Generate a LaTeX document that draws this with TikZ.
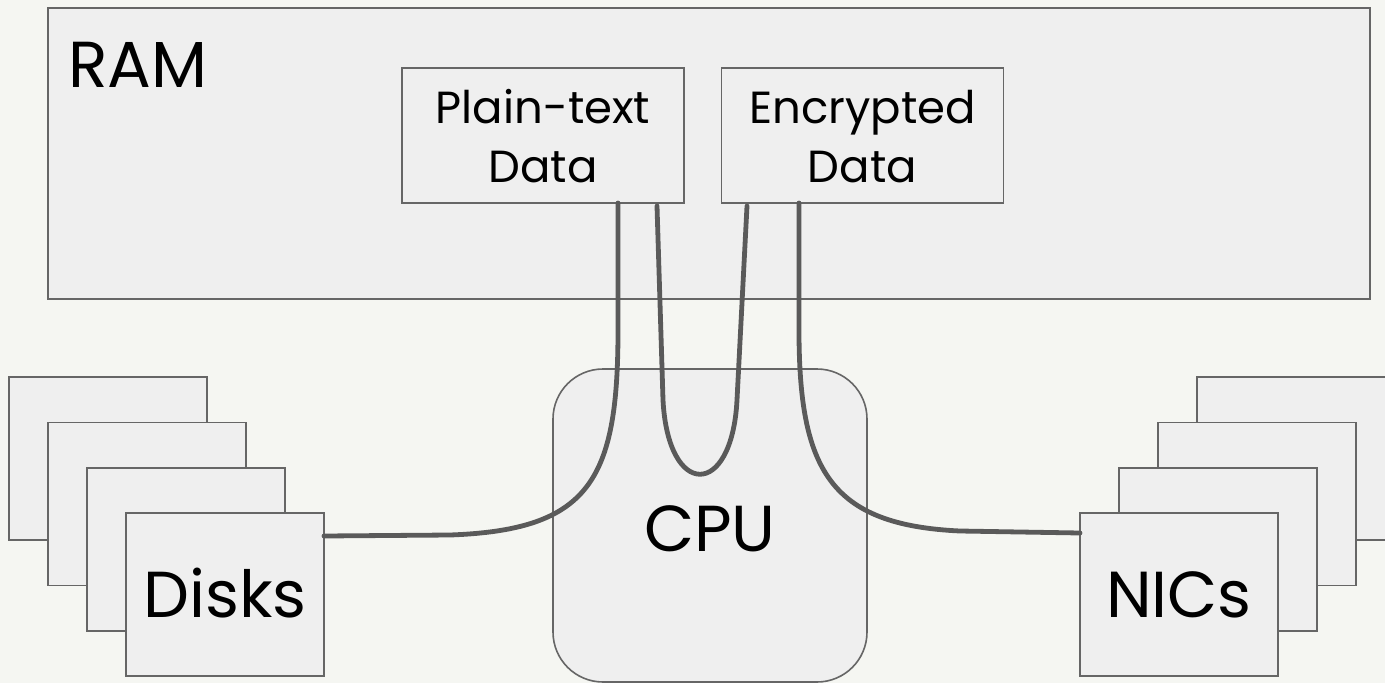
\documentclass[tikz,border=0pt]{standalone}
\usepackage{fontspec}
\setmainfont{Poppins}
\usetikzlibrary{calc}
\definecolor{bg}{HTML}{F5F6F2}
\definecolor{boxfill}{HTML}{EFEFEF}
\definecolor{boxline}{HTML}{666666}
\definecolor{wire}{HTML}{5A5A5A}
\tikzset{
  box/.style={draw=boxline, fill=boxfill, line width=1.6pt, inner sep=0pt, outer sep=0pt, rectangle},
  stackbox/.style={box, minimum width=198pt, minimum height=163pt},
  databox/.style={box, minimum width=282pt, minimum height=135pt},
  biglbl/.style={inner sep=0pt, anchor=base, font=\fontsize{65}{72}\selectfont},
  smalllbl/.style={inner sep=0pt, anchor=base, font=\fontsize{45}{50}\selectfont},
  wirestyle/.style={draw=wire, line width=4.8pt, line cap=round}
}
\begin{document}
\begin{tikzpicture}[x=1pt,y=-1pt]
\useasboundingbox (0,0) rectangle (1385,683);
\fill[bg] (0,0) rectangle (1385,683);
% RAM
\node[box, minimum width=1322pt, minimum height=291pt] (ram) at (709,153.5) {};
\node[biglbl, anchor=base west] (ramlbl) at (68,87) {RAM};
% data boxes
\node[databox] (plain) at (543,135.5) {};
\node[smalllbl] (plainl1) at (543,123) {Plain-text};
\node[smalllbl] (plainl2) at (543,182) {Data};
\node[databox] (enc) at (862.5,135.5) {};
\node[smalllbl] (encl1) at (862.5,123) {Encrypted};
\node[smalllbl] (encl2) at (862.5,182) {Data};
% CPU
\node[box, rounded corners=50pt, minimum width=314pt, minimum height=313pt] (cpu) at (710,525.5) {};
\node[biglbl] (cpulbl) at (710,551) {CPU};
% Disks stack
\node[stackbox] (disk1) at (108,458.5) {};
\node[stackbox] (disk2) at (147,504) {};
\node[stackbox] (disk3) at (186,549.5) {};
\node[stackbox] (disk4) at (225,594.5) {};
\node[biglbl] (disklbl) at (225,617) {Disks};
% NICs stack
\begin{scope}
\clip (0,0) rectangle (1385,683);
\node[stackbox] (nic1) at (1296,458.5) {};
\end{scope}
\node[stackbox] (nic2) at (1257,504) {};
\node[stackbox] (nic3) at (1218,549.5) {};
\node[stackbox] (nic4) at (1179,594.5) {};
\node[biglbl] (niclbl) at (1179,617) {NICs};
% wires
\coordinate (w1a) at ($(plain.south)+(75,0)$);
\coordinate (w1b) at ($(disk4.east)+(0,-58.5)$);
\draw[wirestyle] (w1a) -- (618,330) .. controls (618,480) and (590,530) .. (450,535) -- (w1b);
\coordinate (w2a) at ($(plain.south)+(114,3)$);
\coordinate (w2b) at ($(enc.south)+(-115.5,3)$);
\draw[wirestyle] (w2a) -- (663,400) .. controls (668,499) and (732,499) .. (737,400) -- (w2b);
\coordinate (w3a) at ($(enc.south)+(-63.5,0)$);
\coordinate (w3b) at ($(nic4.west)+(0,-61.5)$);
\draw[wirestyle] (w3a) -- (799,330) .. controls (799,470) and (830,525) .. (960,531) -- (w3b);
\end{tikzpicture}
\end{document}
